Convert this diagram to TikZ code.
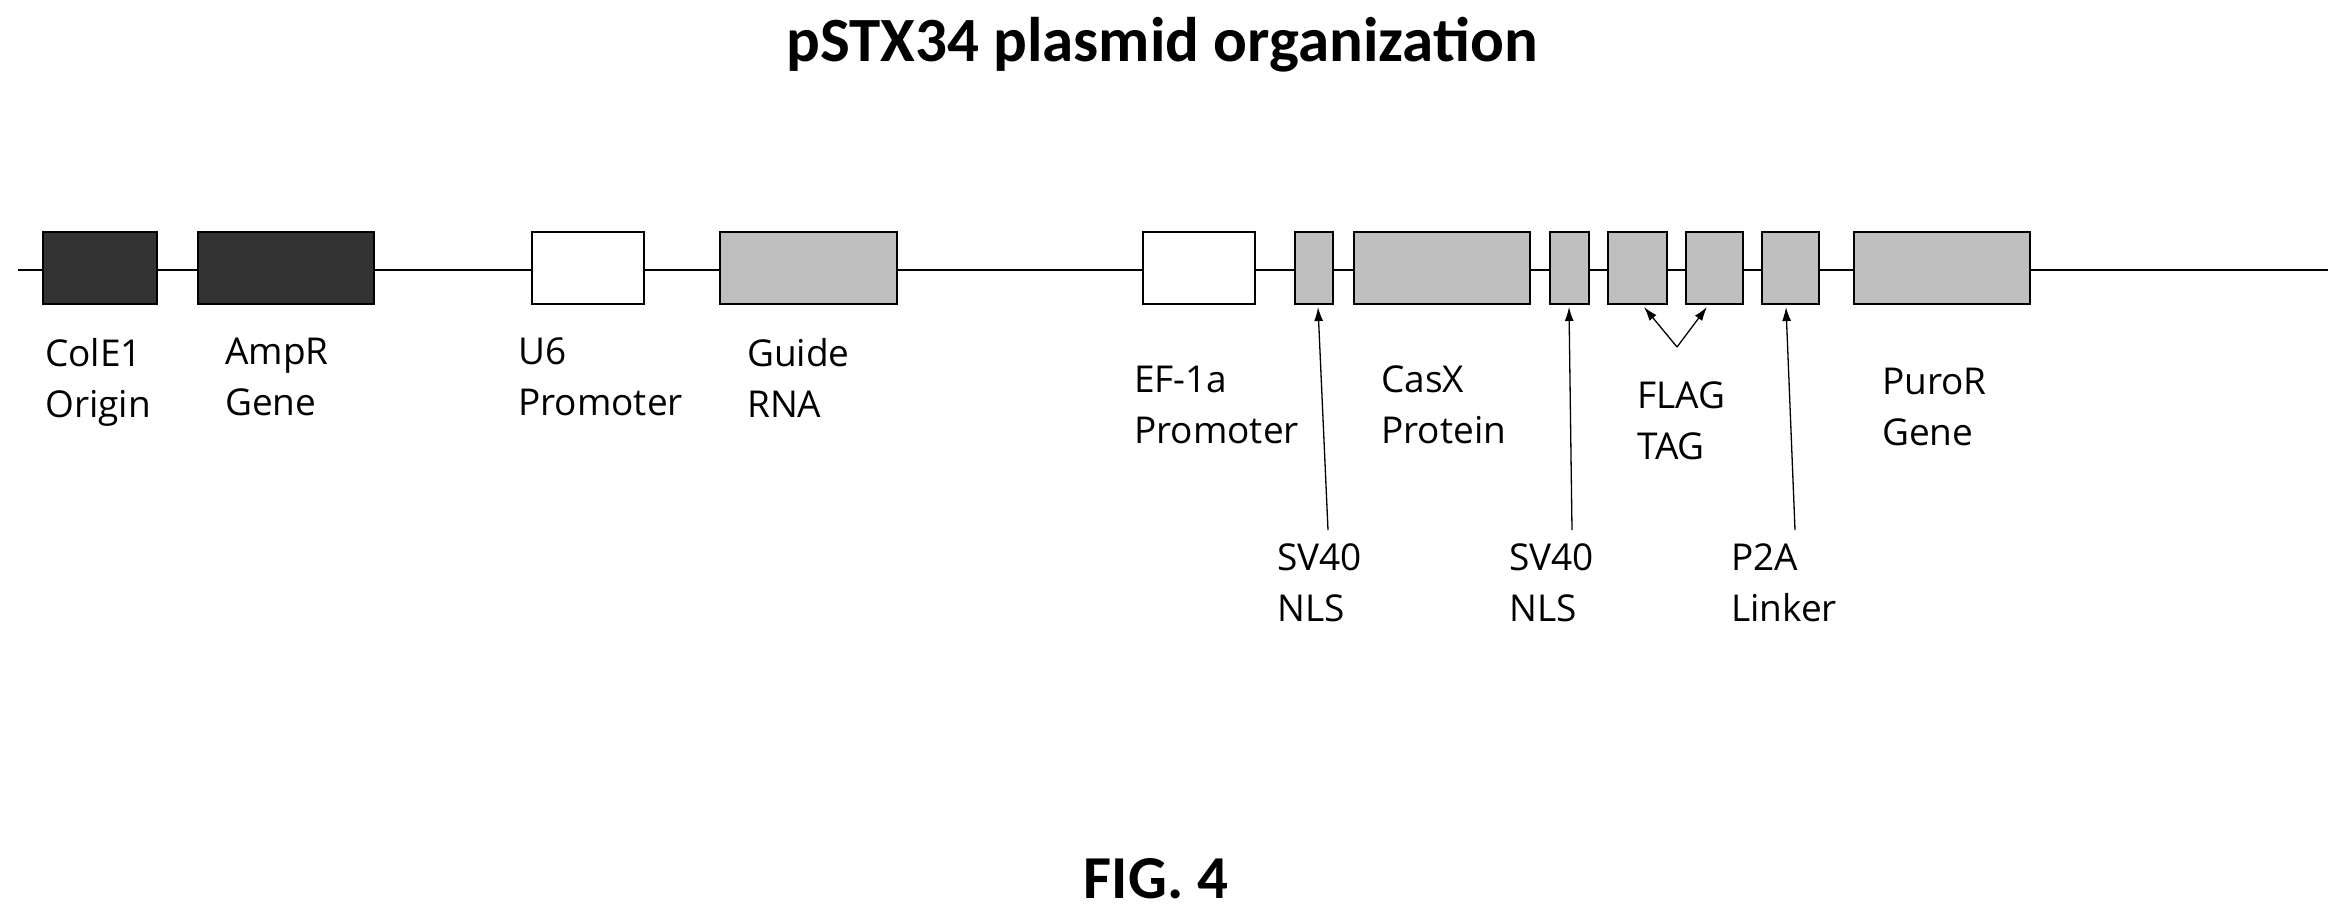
\documentclass[tikz,border=0pt]{standalone}
\usepackage{fontspec}
\setmainfont{Carlito}
\newfontfamily\labfont{Open Sans}
\usetikzlibrary{arrows.meta}
\begin{document}
\begin{tikzpicture}[x=1pt,y=-1pt,
 box/.style={draw=black,line width=1.5pt},
 dark/.style={box,fill=black!80},
 light/.style={box,fill=black!25},
 white/.style={box,fill=white},
 lab/.style={anchor=north west,align=left,font=\labfont\fontsize{37}{51}\selectfont,inner sep=0pt},
 arr/.style={line width=1.3pt,-{Latex[length=14pt,width=9pt]}}]
\useasboundingbox (0,0) rectangle (2348,921);
\node[font=\bfseries\fontsize{63}{70}\selectfont] (title) at (1162,45) {pSTX34 plasmid organization};
\node[font=\bfseries\fontsize{61}{66}\selectfont] (fig) at (1156,879) {FIG. 4};
\coordinate (L0) at (18,270); \coordinate (L1) at (2328,270);
\draw[line width=1.5pt] (L0) -- (L1);
\draw[dark] (43,232) rectangle (157,304);
\draw[dark] (198,232) rectangle (374,304);
\draw[white] (532,232) rectangle (644,304);
\draw[light] (720,232) rectangle (897,304);
\draw[white] (1143,232) rectangle (1255,304);
\draw[light] (1295,232) rectangle (1333,304);
\draw[light] (1354,232) rectangle (1530,304);
\draw[light] (1550,232) rectangle (1589,304);
\draw[light] (1608,232) rectangle (1667,304);
\draw[light] (1686,232) rectangle (1743,304);
\draw[light] (1762,232) rectangle (1819,304);
\draw[light] (1854,232) rectangle (2030,304);
\node[lab] (l1) at (45,338) {ColE1\\Origin};
\node[lab] (l2) at (225,338) {AmpR\\Gene};
\node[lab] (l3) at (518,338) {U6\\Promoter};
\node[lab] (l4) at (747,338) {Guide\\RNA};
\node[lab] (l5) at (1134,366) {EF-1a\\Promoter};
\node[lab] (l6) at (1381,366) {CasX\\Protein};
\node[lab] (l7) at (1637,382) {FLAG\\TAG};
\node[lab] (l8) at (1882,368) {PuroR\\Gene};
\node[lab] (l9) at (1277,543) {SV40\\NLS};
\node[lab] (l10) at (1509,543) {SV40\\NLS};
\node[lab] (l11) at (1731,543) {P2A\\Linker};
\coordinate (a1s) at (1328,530); \coordinate (a1e) at (1318,307);
\coordinate (a2s) at (1572,530); \coordinate (a2e) at (1569,307);
\coordinate (a3s) at (1795,530); \coordinate (a3e) at (1786,307);
\coordinate (fv) at (1677,347); \coordinate (f1) at (1644,307); \coordinate (f2) at (1707,307);
\draw[arr] (a1s) -- (a1e);
\draw[arr] (a2s) -- (a2e);
\draw[arr] (a3s) -- (a3e);
\draw[arr] (fv) -- (f1);
\draw[arr] (fv) -- (f2);
\end{tikzpicture}
\end{document}
